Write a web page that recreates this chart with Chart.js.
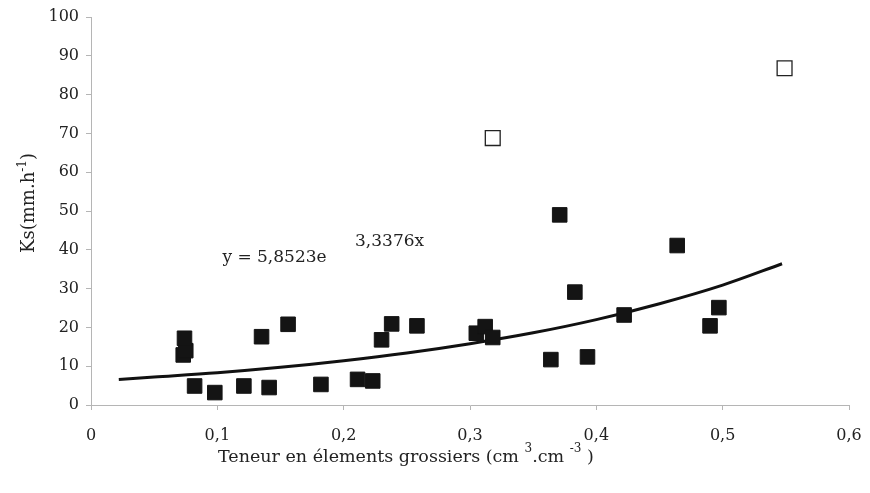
<!DOCTYPE html>
<html>
<head>
<meta charset="utf-8">
<script src="https://cdn.jsdelivr.net/npm/chart.js@4.4.1/dist/chart.umd.min.js"></script>
<style>
  html, body { margin: 0; padding: 0; background: #fff; }
  #wrap { width: 870px; height: 493px; }
</style>
</head>
<body>
<div id="wrap"><canvas id="myChart" width="870" height="493"></canvas></div>
<script>
// measured points (filled squares)
var ptsX = [0.073, 0.075, 0.074, 0.082, 0.098, 0.121, 0.135, 0.141, 0.156, 0.182, 0.211, 0.223,
            0.230, 0.238, 0.258, 0.305, 0.312, 0.318, 0.364, 0.371, 0.383, 0.393, 0.422, 0.464,
            0.490, 0.497];
var ptsY = [12.9, 14.0, 17.2, 4.9, 3.2, 4.9, 17.6, 4.5, 20.8, 5.3, 6.6, 6.2,
            16.8, 20.9, 20.4, 18.5, 20.2, 17.4, 11.7, 49.0, 29.1, 12.4, 23.2, 41.1,
            20.4, 25.1];
// outliers (hollow squares)
var outX = [0.318, 0.549];
var outY = [68.8, 86.8];
// fitted curve
var fitX = [0.022, 0.05, 0.1, 0.15, 0.2, 0.25, 0.3, 0.35, 0.4, 0.45, 0.5, 0.547];
var fitY = [6.6, 7.2, 8.3, 9.7, 11.4, 13.4, 15.8, 18.6, 22.0, 26.1, 30.9, 36.4];
var xTickLabels = ["0", "0,1", "0,2", "0,3", "0,4", "0,5", "0,6"];
var yTickLabels = ["0", "10", "20", "30", "40", "50", "60", "70", "80", "90", "100"];

var fnt = "DejaVu Serif";

function toXY(xs, ys){
    var out = [];
    for (var i = 0; i < xs.length; i++) out.push({x: xs[i], y: ys[i]});
    return out;
}

// draw titles with superscripts + the equation
var textPlugin = {
    id: "texts",
    afterDraw: function(chart){
        var ctx = chart.ctx;
        var xs = chart.scales.x, ys = chart.scales.y;
        ctx.save();
        ctx.fillStyle = "#222";
        ctx.textBaseline = "alphabetic";
        // x title
        var parts = [["Teneur en élements grossiers (cm ", 0], ["3", 1], [".cm ", 0], ["-3", 1], [" )", 0]];
        var x = 218, base = 462;
        parts.forEach(function(p){
            ctx.font = (p[1] ? "12px " : "17.5px ") + fnt;
            ctx.fillText(p[0], x, p[1] ? base - 10 : base);
            x += ctx.measureText(p[0]).width;
        });
        // y title (rotated)
        ctx.save();
        ctx.translate(34, 203);
        ctx.rotate(-Math.PI / 2);
        var yparts = [["Ks(mm.h", 0], ["-1", 1], [")", 0]];
        var tw = 0;
        yparts.forEach(function(p){ ctx.font = (p[1] ? "12px " : "18px ") + fnt; tw += ctx.measureText(p[0]).width; });
        var yx = -tw / 2;
        yparts.forEach(function(p){
            ctx.font = (p[1] ? "12px " : "18px ") + fnt;
            ctx.fillText(p[0], yx, p[1] ? -8 : 0);
            yx += ctx.measureText(p[0]).width;
        });
        ctx.restore();
        // equation
        ctx.font = "17px " + fnt;
        ctx.fillText("y = 5,8523e", xs.getPixelForValue(0.104), ys.getPixelForValue(36.9));
        ctx.fillText("3,3376x", xs.getPixelForValue(0.209), ys.getPixelForValue(40.9));
        ctx.restore();
    }
};

const ctx = document.getElementById("myChart").getContext("2d");
var myChart = new Chart(ctx, {
    type: "scatter",
    data: {
        datasets: [
            {
                label: "fit",
                data: toXY(fitX, fitY),
                showLine: true,
                borderColor: "#111",
                borderWidth: 3,
                pointRadius: 0,
                tension: 0.35,
                order: 3
            },
            {
                label: "points",
                data: toXY(ptsX, ptsY),
                pointStyle: "rect",
                pointRadius: 10.3,
                backgroundColor: "#141414",
                borderColor: "#141414",
                borderWidth: 1,
                order: 1
            },
            {
                label: "outliers",
                data: toXY(outX, outY),
                pointStyle: "rect",
                pointRadius: 10.5,
                backgroundColor: "#fff",
                borderColor: "#222",
                borderWidth: 1.3,
                order: 2
            }
        ]
    },
    options: {
        responsive: false,
        animation: false,
        layout: { padding: { left: 0, right: 0, top: 17, bottom: 0 } },
        plugins: { legend: { display: false }, tooltip: { enabled: false } },
        scales: {
            x: {
                type: "linear",
                min: 0, max: 0.6,
                border: { color: "#b5b5b5", width: 1 },
                grid: { drawOnChartArea: false, color: "#b5b5b5", tickLength: 5 },
                ticks: {
                    stepSize: 0.1,
                    padding: 16,
                    color: "#222",
                    font: { family: fnt, size: 16 },
                    callback: function(v){ return xTickLabels[Math.round(v * 10)]; }
                },
                afterFit: function(s){
                    s.height = 493 - 405;
                    s.paddingLeft = 0;
                    s.paddingRight = 21;
                }
            },
            y: {
                min: 0, max: 100,
                border: { color: "#b5b5b5", width: 1 },
                grid: { drawOnChartArea: false, color: "#b5b5b5", tickLength: 5 },
                ticks: {
                    stepSize: 10,
                    padding: 7,
                    color: "#222",
                    font: { family: fnt, size: 16 },
                    callback: function(v){ return yTickLabels[Math.round(v / 10)]; }
                },
                afterFit: function(s){ s.width = 91; }
            }
        }
    },
    plugins: [textPlugin]
});
</script>
</body>
</html>
